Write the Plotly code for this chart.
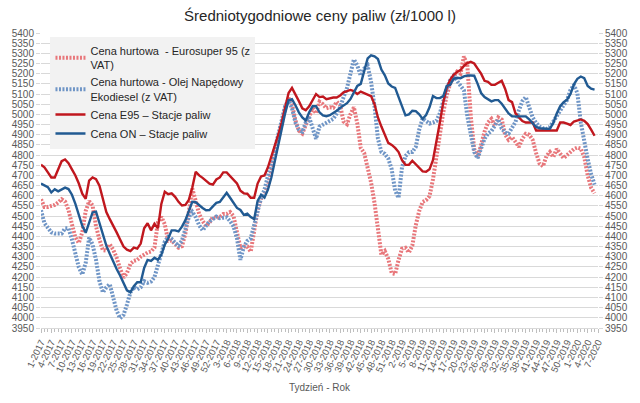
import plotly.graph_objects as go

# Weekly categories: 1-2017 .. 7-2020
weeks = ([f"{w}-2017" for w in range(1, 53)] + [f"{w}-2018" for w in range(1, 53)]
         + [f"{w}-2019" for w in range(1, 53)] + [f"{w}-2020" for w in range(1, 8)])

hurt_e95 = [4583, 4545, 4545, 4548, 4555, 4567, 4583, 4572, 4530, 4460,
            4395, 4368, 4420, 4525, 4573, 4553, 4450, 4385, 4332, 4330,
            4362, 4335, 4296, 4242, 4198, 4220, 4265, 4280, 4285, 4300,
            4312, 4321, 4326, 4345, 4470, 4497, 4460, 4378, 4380, 4365,
            4345, 4352, 4414, 4520, 4635, 4575, 4510, 4476, 4452, 4468,
            4495, 4490, 4495, 4510, 4510, 4520, 4500, 4420, 4345, 4350,
            4350, 4325, 4440, 4530, 4585, 4610, 4648, 4725, 4805, 4885,
            4960, 5030, 5080, 5050, 4970, 4920, 4906, 4952, 4998, 5030,
            5005, 5062, 5050, 5030, 5035, 5033, 5062, 5045, 4965, 4952,
            5000, 5035, 4955, 4835, 4810, 4745, 4665, 4565, 4440, 4310,
            4328, 4290, 4220, 4215, 4285, 4340, 4344, 4321, 4355, 4455,
            4525, 4570, 4578, 4598, 4680, 4790, 4930, 5010, 5095, 5150,
            5185, 5210, 5200, 5285, 5240, 4990, 4830, 4790, 4850, 4915,
            4960, 4978, 4944, 4985, 4975, 4900, 4875, 4888, 4865, 4840,
            4880, 4905, 4900, 4875, 4810, 4758, 4745, 4795, 4815, 4790,
            4830, 4805, 4785, 4800, 4815, 4830, 4837, 4832, 4790, 4700,
            4640, 4612]

hurt_on = [4529, 4465, 4443, 4420, 4414, 4416, 4414, 4440, 4440, 4385,
           4315, 4248, 4213, 4270, 4395, 4360, 4285, 4180, 4125, 4150,
           4165, 4100, 4035, 3998, 4014, 4065, 4125, 4150, 4140, 4150,
           4180, 4172, 4178, 4200, 4255, 4305, 4375, 4398, 4388, 4368,
           4355, 4380, 4430, 4495, 4521, 4495, 4455, 4430, 4452, 4475,
           4485, 4498, 4490, 4490, 4494, 4475, 4450, 4390, 4285, 4350,
           4378, 4390, 4460, 4530, 4590, 4630, 4690, 4765, 4830, 4905,
           4975, 5040, 5070, 5030, 4960, 4925, 4915, 4960, 4985, 4930,
           4880, 4940, 4950, 4960, 4970, 4978, 5005, 5035, 5085, 5130,
           5200, 5270, 5240, 5190, 5225, 5240, 5160, 5040, 4880, 4815,
           4806, 4783, 4730, 4625, 4590, 4740, 4795, 4814, 4815, 4840,
           4925, 4980, 4967, 4955, 4960, 4968, 5005, 5070, 5125, 5168,
           5190, 5165, 5140, 5118, 4990, 4905, 4815, 4785, 4830, 4880,
           4906, 4918, 4945, 4975, 4930, 4910, 4906, 4935, 4962, 5020,
           5065, 5085, 5035, 4985, 4958, 4940, 4932, 4929, 4938, 4965,
           5000, 5022, 5045, 5070, 5120, 5145, 5105, 4960, 4860, 4780,
           4706, 4655]

stacje_e95 = [4752, 4740, 4715, 4690, 4690, 4735, 4770, 4778, 4760, 4730,
              4700, 4660, 4610, 4585, 4675, 4690, 4682, 4650, 4583, 4520,
              4485, 4455, 4420, 4385, 4350, 4335, 4328, 4345, 4340, 4365,
              4440, 4465, 4430, 4462, 4440, 4560, 4620, 4608, 4612, 4595,
              4570, 4552, 4555, 4580, 4640, 4718, 4700, 4688, 4675, 4660,
              4655, 4680, 4690, 4715, 4715, 4695, 4680, 4660, 4625, 4612,
              4610, 4590, 4590, 4660, 4695, 4700, 4740, 4790, 4850, 4900,
              4960, 5035, 5105, 5130, 5100, 5065, 5030, 5020, 5040, 5070,
              5100, 5085, 5088, 5075, 5080, 5083, 5083, 5093, 5108, 5116,
              5120, 5115, 5100, 5112, 5105, 5097, 5090, 5050, 4985, 4940,
              4895, 4860, 4850, 4835, 4815, 4775, 4752, 4752, 4772, 4755,
              4733, 4720, 4718, 4730, 4775, 4860, 4960, 5060, 5130, 5170,
              5195, 5208, 5218, 5238, 5252, 5258, 5250, 5225, 5200, 5165,
              5160, 5145, 5145, 5155, 5165, 5125, 5070, 5060, 5005, 4985,
              4967, 4960, 4960, 4960, 4921, 4921, 4921, 4921, 4921, 4921,
              4921, 4960, 4960, 4955, 4948, 4965, 4970, 4975, 4968, 4952,
              4925, 4895]

stacje_on = [4660, 4652, 4642, 4616, 4632, 4622, 4632, 4640, 4633, 4605,
             4560, 4508, 4452, 4418, 4470, 4518, 4522, 4470, 4415, 4355,
             4315, 4275, 4240, 4208, 4175, 4135, 4125, 4155, 4175, 4175,
             4245, 4285, 4280, 4295, 4285, 4310, 4360, 4390, 4430, 4430,
             4425, 4448, 4480, 4525, 4570, 4568, 4552, 4540, 4529, 4530,
             4548, 4565, 4570, 4590, 4615, 4590, 4565, 4540, 4530, 4506,
             4512, 4495, 4485, 4575, 4605, 4591, 4630, 4690, 4770, 4850,
             4925, 5005, 5070, 5075, 5045, 5010, 4985, 4970, 5010, 5040,
             5040, 5010, 4995, 4991, 4996, 5005, 5018, 5032, 5045, 5055,
             5075, 5105, 5140, 5150, 5210, 5275, 5290, 5285, 5272, 5220,
             5192, 5152, 5137, 5130, 5085, 5040, 4995, 5000, 5018, 5016,
             5000, 4978, 4997, 5035, 5090, 5080, 5080, 5090, 5140, 5145,
             5175, 5180, 5178, 5187, 5191, 5191, 5190, 5150, 5105, 5085,
             5075, 5064, 5070, 5070, 5052, 5028, 5005, 4991, 4991, 4991,
             4991, 4990, 4975, 4955, 4938, 4932, 4929, 4929, 4929, 4958,
             5005, 5040, 5060, 5072, 5100, 5148, 5175, 5186, 5178, 5140,
             5126, 5122]

names = ["Cena hurtowa  - Eurosuper 95 (z<br>VAT)",
         "Cena hurtowa - Olej Napędowy<br>Ekodiesel (z VAT)",
         "Cena E95 – Stacje paliw",
         "Cena ON – Stacje paliw"]

y_ticks = list(range(3950, 5401, 50))

FONT = "Liberation Sans, Arial, sans-serif"
idx = list(range(len(weeks)))
tick_idx = idx[::3]
tick_text = [weeks[i] for i in tick_idx]

fig = go.Figure()
fig.add_trace(go.Scatter(x=idx, y=hurt_e95, name=names[0], mode="lines",
                         line=dict(color="#E8777B", width=4, dash="2px,1.5px")))
fig.add_trace(go.Scatter(x=idx, y=hurt_on, name=names[1], mode="lines",
                         line=dict(color="#6F95C6", width=4, dash="2px,1.5px")))
fig.add_trace(go.Scatter(x=idx, y=stacje_e95, name=names[2], mode="lines",
                         line=dict(color="#C0171E", width=2.4)))
fig.add_trace(go.Scatter(x=idx, y=stacje_on, name=names[3], mode="lines", yaxis="y2",
                         line=dict(color="#215A92", width=2.4)))

axis_y = dict(range=[3950, 5400], tickvals=y_ticks, showgrid=True, gridcolor="#D9D9D9",
              gridwidth=1, zeroline=False, tickfont=dict(size=10, color="#595959", family=FONT),
              ticks="outside", ticklen=4, tickcolor="#D9D9D9", fixedrange=True)

fig.update_layout(
    width=640, height=403,
    margin=dict(l=30, r=28, t=33, b=56),
    paper_bgcolor="white", plot_bgcolor="white",
    font=dict(family=FONT, color="#404040"),
    title=dict(text="Średniotygodniowe ceny paliw (zł/1000 l)", x=0.5, xanchor="center",
               y=0.96, yanchor="middle", font=dict(size=15, color="#262626", family=FONT)),
    xaxis=dict(range=[0, len(weeks) - 1], tickvals=tick_idx, ticktext=tick_text, tickangle=-65,
               tickfont=dict(size=9.5, color="#595959", family=FONT), showgrid=False, zeroline=False,
               showline=True, linecolor="#D9D9D9", ticks="outside", ticklen=4, tickcolor="#BFBFBF",
               minor=dict(ticks="outside", dtick=1, ticklen=3, tickcolor="#BFBFBF"),
               title=dict(text="Tydzień - Rok", font=dict(size=10, color="#595959", family=FONT),
                          standoff=10)),
    yaxis=dict(**axis_y, side="left"),
    yaxis2=dict(**axis_y, side="right", overlaying="y"),
    legend=dict(x=0.017, y=0.987, xanchor="left", yanchor="top", bgcolor="#F2F2F2",
                font=dict(size=11, color="#262626", family=FONT), tracegroupgap=2,
                itemwidth=30),
    showlegend=True,
)

fig.write_html("out.html")
